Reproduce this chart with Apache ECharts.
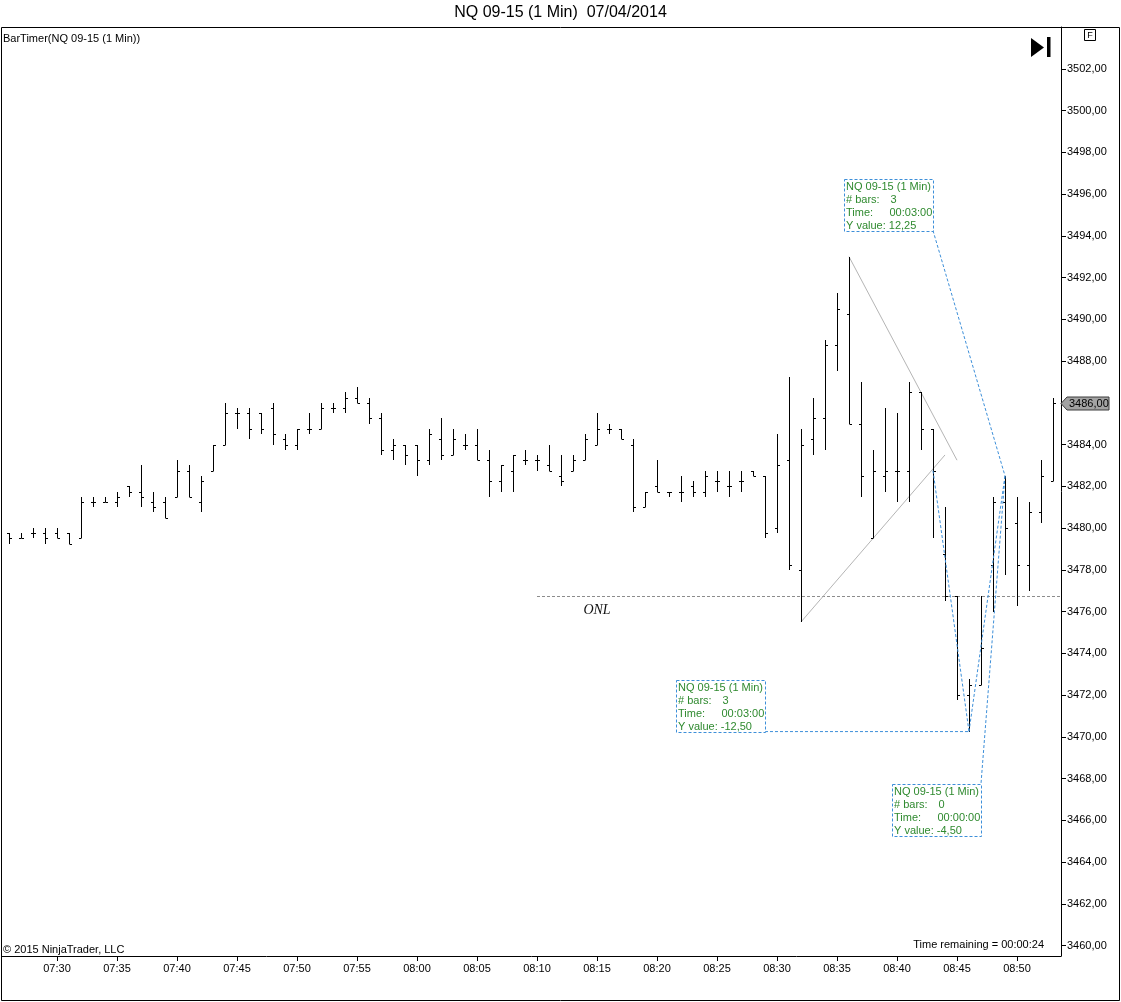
<!DOCTYPE html>
<html>
<head>
<meta charset="utf-8">
<title>NQ 09-15 (1 Min) 07/04/2014</title>
<script src="https://cdn.jsdelivr.net/npm/echarts@6/dist/echarts.min.js"></script>
<style>
  html, body { margin: 0; padding: 0; background: #fff; }
  #chart { width: 1121px; height: 1002px; }
</style>
</head>
<body>
<div id="chart"></div>
<script>
// NQ 09-15 1-minute OHLC bars, 07:26 .. 08:53, with the ruler / trend line drawings.
var times = [
  '07:26','07:27','07:28','07:29','07:30','07:31','07:32','07:33','07:34','07:35',
  '07:36','07:37','07:38','07:39','07:40','07:41','07:42','07:43','07:44','07:45',
  '07:46','07:47','07:48','07:49','07:50','07:51','07:52','07:53','07:54','07:55',
  '07:56','07:57','07:58','07:59','08:00','08:01','08:02','08:03','08:04','08:05',
  '08:06','08:07','08:08','08:09','08:10','08:11','08:12','08:13','08:14','08:15',
  '08:16','08:17','08:18','08:19','08:20','08:21','08:22','08:23','08:24','08:25',
  '08:26','08:27','08:28','08:29','08:30','08:31','08:32','08:33','08:34','08:35',
  '08:36','08:37','08:38','08:39','08:40','08:41','08:42','08:43','08:44','08:45',
  '08:46','08:47','08:48','08:49','08:50','08:51','08:52','08:53'
];
var opens = [
  3479.75,3479.5,3479.75,3479.75,3479.75,3479.75,3479.5,3481.25,3481.25,3481.25,
  3482,3481.75,3481.25,3481.25,3481.5,3482.75,3481.25,3482.75,3484,3485.5,
  3485.5,3485.5,3485.75,3484.25,3484,3484.75,3484.75,3485.75,3485.75,3486.25,
  3486,3485.25,3483.75,3484,3484,3483.25,3484.25,3483.5,3484,3484,
  3483.25,3482.25,3482.75,3483.25,3483.25,3483,3482.5,3482.75,3483.25,3484,
  3484.75,3484.75,3484,3481,3482,3481.75,3481.75,3482,3481.75,3482.25,
  3482,3482.25,3482.75,3482.5,3480,3483.25,3478,3484.25,3485.25,3488.75,
  3490.25,3485,3479.5,3482.5,3482.75,3482.75,3486.5,3484.75,3478.75,3476.75,
  3472,3472.5,3478.25,3481.25,3480.25,3478.25,3480.75,3482.25
];
var highs = [
  3479.75,3479.75,3480,3480,3480,3479.75,3481.5,3481.5,3481.5,3481.75,
  3482,3483,3481.75,3481.5,3483.25,3483,3482.5,3484,3486,3485.75,
  3485.75,3485.5,3486,3484.5,3484.75,3485.5,3486,3486,3486.5,3486.75,
  3486.25,3485.5,3484.25,3484,3484,3484.75,3485.25,3484.75,3484.5,3484.75,
  3483.75,3483,3483.5,3483.75,3483.5,3484,3483.5,3483.5,3484.5,3485.5,
  3485,3484.75,3484.25,3481.75,3483.25,3481.75,3482.5,3482.25,3482.75,3482.75,
  3482.75,3482.75,3482.75,3482.5,3484.5,3487.25,3484.75,3486.25,3489,3491.25,
  3493,3487,3483.75,3485.75,3485.5,3487,3486.5,3484.75,3481,3476.75,
  3472.75,3476.75,3481.5,3482.5,3481.5,3481.25,3483.25,3486.25
];
var lows = [
  3479.25,3479.5,3479.5,3479.25,3479.5,3479.25,3479.5,3481,3481.25,3481,
  3481.5,3481,3480.75,3480.5,3481.5,3481.5,3480.75,3482.75,3484,3484.75,
  3484.25,3484.5,3484,3483.75,3483.75,3484.5,3484.75,3485.5,3485.5,3486,
  3485,3483.5,3483.25,3483,3482.5,3483,3483.25,3483.5,3483.75,3483.25,
  3481.5,3481.75,3481.75,3483,3482.75,3482.75,3482,3482.75,3483.25,3484,
  3484.5,3484.25,3480.75,3481,3481.75,3481.5,3481.25,3481.5,3481.5,3481.75,
  3481.5,3481.75,3482.5,3479.5,3479.75,3478,3475.5,3483.5,3483.75,3487.5,
  3485,3481.5,3479.5,3481.75,3481.25,3481.25,3483.75,3479.5,3476.5,3471.75,
  3470.25,3472.5,3476,3477.75,3476.25,3477,3480.25,3482.25
];
var closes = [
  3479.5,3479.5,3479.75,3479.5,3479.5,3479.25,3481.25,3481.25,3481.25,3481.5,
  3481.75,3481.5,3481,3480.5,3482.75,3481.5,3482.25,3484,3485.5,3485.5,
  3484.75,3484.75,3484.5,3484,3484.75,3484.75,3485.75,3485.75,3486.25,3486,
  3485.25,3483.75,3484,3483.5,3483.25,3484.5,3483.5,3484.25,3484,3483.25,
  3482.25,3483,3483.5,3483.25,3483.25,3482.75,3482.25,3483.25,3484.25,3484.75,
  3484.75,3484.25,3481,3481.75,3481.75,3481.75,3481.75,3481.75,3482.5,3482.25,
  3482,3482.25,3482.5,3479.75,3483,3478.25,3484,3485.25,3488.75,3490.5,
  3485,3482.5,3482.75,3482.75,3482.75,3486.5,3484.75,3482.75,3476.75,3472,
  3472.5,3474.25,3481.25,3480,3478.25,3480.75,3482.5,3486
];

var timeTicks = ['07:30','07:35','07:40','07:45','07:50','07:55','08:00','08:05','08:10',
                 '08:15','08:20','08:25','08:30','08:35','08:40','08:45','08:50'];
var priceTicks = [3460,3462,3464,3466,3468,3470,3472,3474,3476,3478,3480,
                  3482,3484,3486,3488,3490,3492,3494,3496,3498,3500,3502];

// overnight low line
var onlLevel = 3476.75;
var onlStart = '08:10';
var onlLabelAt = '08:15';

// gray hand-drawn trend lines
var trendFrom = [['08:36', 3493], ['08:32', 3475.5]];
var trendTo = [['08:45', 3483.25], ['08:44', 3483.5]];

// blue dashed ruler lines
var rulerFrom = [['08:43', 3482.75], ['08:46', 3470.25], ['08:43', 3494.25], ['08:29', 3470.25], ['08:49', 3482.5]];
var rulerTo = [['08:46', 3470.25], ['08:49', 3482.5], ['08:49', 3482.5], ['08:46', 3470.25], ['08:47', 3467.75]];

// ruler text boxes: right edge time, anchor price, anchor is box bottom (0) or top (1)
var boxRight = ['08:43', '08:29', '08:47'];
var boxPrice = [3494.25, 3470.25, 3467.75];
var boxAnchor = [0, 0, 1];
var boxBars = ['3', '3', '0'];
var boxTimes = ['00:03:00', '00:03:00', '00:00:00'];
var boxYValues = ['12,25', '-12,50', '-4,50'];

var FONT = '"Liberation Sans", Arial, sans-serif';
var BLUE = '#3d8fd9';
var GREEN = '#2f8a2f';

function toMin(t) {
    var p = t.split(':');
    return (+p[0]) * 60 + (+p[1]) - (7 * 60 + 26);
}
function fmtPrice(v) { return v.toFixed(2).replace('.', ','); }

var bars = [];
for (var i = 0; i < times.length; i++) {
    bars.push([toMin(times[i]), opens[i], highs[i], lows[i], closes[i]]);
}
var tickMins = [];
for (var t = 0; t < timeTicks.length; t++) tickMins.push(toMin(timeTicks[t]));

function segs(from, to) {
    var out = [];
    for (var k = 0; k < from.length; k++) {
        out.push([toMin(from[k][0]), from[k][1], toMin(to[k][0]), to[k][1]]);
    }
    return out;
}
var boxes = [];
for (var b = 0; b < boxRight.length; b++) boxes.push([toMin(boxRight[b]), boxPrice[b], boxAnchor[b]]);
var last = times.length - 1;

// OHLC bar: 1px high-low stem, open tick to the left, close tick to the right
function renderBar(params, api) {
    var x = api.value(0);
    var pO = api.coord([x, api.value(1)]);
    var pH = api.coord([x, api.value(2)]);
    var pL = api.coord([x, api.value(3)]);
    var pC = api.coord([x, api.value(4)]);
    var cx = Math.round(pH[0]) + 0.5;
    var y1 = Math.round(pH[1]), y2 = Math.round(pL[1]);
    if (y2 - y1 < 2) y2 = y1 + 2;
    var yo = Math.round(pO[1]) + 0.5, yc = Math.round(pC[1]) + 0.5;
    return {
        type: 'group',
        children: [
            { type: 'line', shape: { x1: cx, y1: y1, x2: cx, y2: y2 }, style: { stroke: '#000', lineWidth: 1 } },
            { type: 'line', shape: { x1: cx - 2.5, y1: yo, x2: cx, y2: yo }, style: { stroke: '#000', lineWidth: 1 } },
            { type: 'line', shape: { x1: cx, y1: yc, x2: cx + 2.5, y2: yc }, style: { stroke: '#000', lineWidth: 1 } }
        ]
    };
}

function segmentRenderer(color, dash) {
    return function (params, api) {
        var a = api.coord([api.value(0), api.value(1)]);
        var c = api.coord([api.value(2), api.value(3)]);
        return {
            type: 'line',
            shape: { x1: a[0], y1: a[1], x2: c[0], y2: c[1] },
            style: { stroke: color, lineWidth: 1, lineDash: dash }
        };
    };
}

function renderBox(params, api) {
    var p = api.coord([api.value(0), api.value(1)]);
    var w = 89, h = 52;
    var right = Math.round(p[0]) + 0.5;
    var top = api.value(2) === 1 ? Math.round(p[1]) + 0.5 : Math.round(p[1]) - h + 0.5;
    var left = right - w;
    var i = params.dataIndex;
    function txt(str, dx, row) {
        return { type: 'text', style: { text: str, x: left + dx, y: top + 7.5 + row * 13, fill: GREEN,
                 font: '11px ' + FONT, textVerticalAlign: 'middle' } };
    }
    return {
        type: 'group',
        children: [
            { type: 'rect', shape: { x: left, y: top, width: w, height: h },
              style: { fill: '#fff', stroke: BLUE, lineWidth: 1, lineDash: [3, 2] } },
            txt('NQ 09-15 (1 Min)', 1.5, 0),
            txt('# bars:', 1.5, 1), txt(boxBars[i], 46, 1),
            txt('Time:', 1.5, 2), txt(boxTimes[i], 45, 2),
            txt('Y value: ' + boxYValues[i], 1.5, 3)
        ]
    };
}

function renderOnl(params, api) {
    var a = api.coord([api.value(0), api.value(1)]);
    var lbl = api.coord([api.value(2), api.value(1)]);
    var right = params.coordSys.x + params.coordSys.width;
    var y = Math.round(a[1]) + 0.5;
    return {
        type: 'group',
        children: [
            { type: 'line', shape: { x1: a[0], y1: y, x2: right, y2: y },
              style: { stroke: '#8c8c8c', lineWidth: 1, lineDash: [3, 2] } },
            { type: 'text', style: { text: 'ONL', x: lbl[0], y: y + 14, fill: '#111',
              font: 'italic 14px "Liberation Serif", "DejaVu Serif", serif',
              textAlign: 'center', textVerticalAlign: 'middle' } }
        ]
    };
}

function renderLastPrice(params, api) {
    var p = api.coord([api.value(0), api.value(1)]);
    var x0 = params.coordSys.x + params.coordSys.width;
    var y = Math.round(p[1]) + 0.5;
    return {
        type: 'group',
        children: [
            { type: 'polygon', shape: { points: [[x0, y], [x0 + 6, y - 6.5], [x0 + 48, y - 6.5], [x0 + 48, y + 6.5], [x0 + 6, y + 6.5]] },
              style: { fill: '#a3a3a3', stroke: '#3c3c3c', lineWidth: 1 } },
            { type: 'text', style: { text: fmtPrice(api.value(1)), x: x0 + 8, y: y, fill: '#000',
              font: '11px ' + FONT, textVerticalAlign: 'middle' } }
        ]
    };
}

var chart = echarts.init(document.getElementById('chart'), null, { renderer: 'canvas' });

chart.setOption({
    animation: false,
    backgroundColor: '#fff',
    grid: { left: 2, right: 60, top: 27, bottom: 46, containLabel: false },
    xAxis: {
        type: 'value',
        min: -0.583,
        max: 87.667,
        axisLine: { show: true, onZero: false, lineStyle: { color: '#000', width: 1 } },
        axisTick: { show: true, length: 5, customValues: tickMins, lineStyle: { color: '#000' } },
        axisLabel: {
            customValues: tickMins,
            margin: 7,
            color: '#000',
            fontSize: 11,
            fontFamily: FONT,
            formatter: function (v) {
                for (var k = 0; k < tickMins.length; k++) if (Math.abs(tickMins[k] - v) < 0.01) return timeTicks[k];
                return '';
            }
        },
        splitLine: { show: false }
    },
    yAxis: {
        type: 'value',
        position: 'right',
        min: 3459.5,
        max: 3504,
        scale: true,
        axisLine: { show: true, onZero: false, lineStyle: { color: '#000', width: 1 } },
        axisTick: { show: true, length: 5, customValues: priceTicks, lineStyle: { color: '#000' } },
        axisLabel: {
            customValues: priceTicks,
            margin: 6,
            color: '#000',
            fontSize: 11,
            fontFamily: FONT,
            formatter: function (v) { return fmtPrice(v); }
        },
        splitLine: { show: false }
    },
    series: [
        {
            name: 'onl', type: 'custom', renderItem: renderOnl, z: 1,
            encode: { x: 0, y: 1 },
            data: [[toMin(onlStart), onlLevel, toMin(onlLabelAt)]]
        },
        {
            name: 'trend', type: 'custom', renderItem: segmentRenderer('#b5b5b5', null), z: 2,
            encode: { x: [0, 2], y: [1, 3] },
            data: segs(trendFrom, trendTo)
        },
        {
            name: 'NQ 09-15 (1 Min)', type: 'custom', renderItem: renderBar, z: 3,
            encode: { x: 0, y: [1, 2, 3, 4] },
            data: bars
        },
        {
            name: 'ruler', type: 'custom', renderItem: segmentRenderer(BLUE, [3, 2]), z: 4,
            encode: { x: [0, 2], y: [1, 3] },
            data: segs(rulerFrom, rulerTo)
        },
        {
            name: 'rulerBox', type: 'custom', renderItem: renderBox, z: 5,
            encode: { x: 0, y: 1 },
            data: boxes
        },
        {
            name: 'last', type: 'custom', renderItem: renderLastPrice, z: 6,
            encode: { x: 0, y: 1 },
            data: [[toMin(times[last]), closes[last]]]
        }
    ],
    graphic: [
        { type: 'rect', silent: true, z: 100, shape: { x: 1.5, y: 27.5, width: 1118, height: 973 },
          style: { fill: null, stroke: '#000', lineWidth: 1 } },
        { type: 'text', left: 'center', top: 5, z: 100,
          style: { text: 'NQ 09-15 (1 Min)  07/04/2014', fill: '#000', font: '16px ' + FONT } },
        { type: 'text', x: 3, y: 39, z: 100,
          style: { text: 'BarTimer(NQ 09-15 (1 Min))', fill: '#000', font: '11px ' + FONT, textVerticalAlign: 'middle' } },
        { type: 'text', x: 3, y: 950, z: 100,
          style: { text: '\u00a9 2015 NinjaTrader, LLC', fill: '#000', font: '11px ' + FONT, textVerticalAlign: 'middle' } },
        { type: 'text', x: 1044, y: 945, z: 100,
          style: { text: 'Time remaining = 00:00:24', fill: '#000', font: '11px ' + FONT, textAlign: 'right', textVerticalAlign: 'middle' } },
        { type: 'polygon', z: 100, shape: { points: [[1031, 38], [1044, 47.5], [1031, 57]] }, style: { fill: '#000' } },
        { type: 'rect', z: 100, shape: { x: 1047, y: 37, width: 3.5, height: 20 }, style: { fill: '#000' } },
        { type: 'rect', z: 100, shape: { x: 1084.5, y: 29.5, width: 11, height: 11 },
          style: { fill: '#fff', stroke: '#000', lineWidth: 1 } },
        { type: 'text', x: 1090, y: 35.5, z: 101,
          style: { text: 'F', fill: '#000', font: '9px ' + FONT, textAlign: 'center', textVerticalAlign: 'middle' } }
    ]
});
</script>
</body>
</html>
